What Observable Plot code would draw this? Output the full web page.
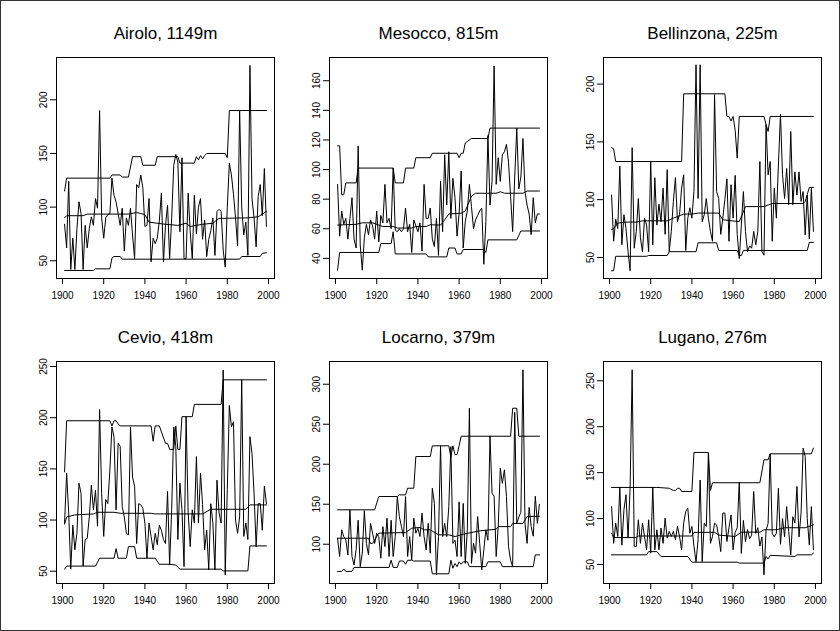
<!DOCTYPE html>
<html>
<head>
<meta charset="utf-8">
<script src="https://cdn.jsdelivr.net/npm/d3@7"></script>
<script src="https://cdn.jsdelivr.net/npm/@observablehq/plot@0.6"></script>
<style>
  html, body { margin: 0; padding: 0; background: #fff; }
  #fig { position: relative; width: 840px; height: 631px; box-sizing: border-box; border: 1px solid #333; background: #fff; overflow: hidden; }
  #fig > svg { position: absolute; }
</style>
</head>
<body>
<div id="fig"></div>
<script>
// ---------- data ----------
const years = d3.range(1901, 2000);
const xTicks = [1900, 1920, 1940, 1960, 1980, 2000];

const airoloTitle = "Airolo, 1149m";
const airoloTicks = [50, 100, 150, 200];
const airoloAnnual = [84,62,124,42,71,42,80,105,94,42, 83,62,80,91,83,108,99,190,90,71, 90,93,94,127,111,105,94,83,99,59, 90,83,99,74,52,121,118,130,118,82, 83,108,49,71,66,71,87,113,49,83, 102,52,90,139,149,142,77,146,52,52, 113,77,52,111,75,100,108,70,88,54, 70,78,90,55,96,98,96,60,44,100, 141,130,112,90,64,190,100,74,86,55, 232,108,90,63,110,121,92,136,82];
const airoloUpper = [[1901,115],[1902,127],[1923,127],[1924,130],[1928,130],[1929,128],[1932,128],[1934,147],[1938,147],[1939,139],[1945,139],[1946,147],[1956,147],[1957,141],[1964,141],[1965,147],[1966,144],[1967,148],[1968,145],[1969,148],[1970,150],[1979,150],[1980,146],[1981,190],[1999,190]];
const airoloLower = [[1901,41],[1915,41],[1916,42.5],[1923,42.5],[1924,52.5],[1925,54],[1928,54],[1929,51.5],[1986,51.5],[1987,54],[1996,54],[1997,57],[1999,57.5]];
const airoloMid = [[1901,90],[1902,92],[1910,92],[1912,93.5],[1932,93.5],[1936,95],[1938,94],[1940,93],[1942,86],[1950,84],[1956,83],[1960,85],[1962,82],[1968,84],[1973,85],[1976,89.5],[1990,90],[1995,91],[1999,96]];

const mesoccoTitle = "Mesocco, 815m";
const mesoccoTicks = [40, 60, 80, 100, 120, 140, 160];
const mesoccoAnnual = [90,55,72,63,67,53,67,81,53,47, 116,49,32,54,63,56,66,62,53,72, 51,69,64,90,64,67,60,101,59,58, 60,58,60,74,58,63,44,66,62,58, 64,45,90,67,67,74,53,48,67,42, 92,58,110,76,112,67,94,81,55,70, 99,47,65,72,90,75,60,66,69,72, 74,36,65,123,76,92,170,90,108,92, 110,112,117,105,82,58,95,128,87,95, 121,85,76,70,56,81,64,70,70];
const mesoccoUpper = [[1901,116],[1902,116],[1903,83],[1904,83],[1905,91],[1910,91],[1911,101],[1928,101],[1929,91],[1933,91],[1934,101],[1938,101],[1939,108],[1946,108],[1947,111],[1959,111],[1960,108],[1961,111],[1962,111],[1963,118],[1964,119],[1966,121],[1974,121],[1975,128],[1999,128]];
const mesoccoLower = [[1901,32],[1902,44],[1921,44],[1922,50],[1927,50],[1928,58],[1929,43],[1944,43],[1945,41],[1954,41],[1955,47],[1958,47],[1959,43],[1961,43],[1962,46],[1972,46],[1973,44],[1974,52.5],[1988,52.5],[1990,58.5],[1999,58.5]];
const mesoccoMid = [[1901,62.5],[1910,63],[1913,64],[1918,64],[1923,61.5],[1928,61.5],[1930,60.5],[1937,60.5],[1939,61.5],[1944,61.5],[1946,62.7],[1951,62.5],[1953,66],[1955,70],[1961,70.5],[1963,72],[1966,82],[1968,84],[1978,84],[1980,85],[1982,84],[1991,84],[1993,85.5],[1999,85.5]];

const bellinzonaTitle = "Bellinzona, 225m";
const bellinzonaTicks = [50, 100, 150, 200];
const bellinzonaAnnual = [104,64,83,75,129,61,87,75,55,38.5, 145,58,72.5,101,67,55,84,78,55,133, 61,119,78,96,81,110,70,126,55,72.5, 98.5,119,81,87,110,121.5,56,84,93,84, 107,216.7,101,216.7,81,87,101,84,72.5,64, 191,107,101,70,84,100,118,64,113,84, 121,70,49,78,107,72.5,55,60,58,72.5, 61,72.5,133,55,52,165,121.5,133,64,110, 84,130,174,121.5,101,127,95.6,159,95.6,124, 104,124,98.5,107,69.6,104,66,110,72.5];
const bellinzonaUpper = [[1901,145],[1902,144],[1903,133],[1935,133],[1936,191.6],[1956,191.6],[1957,172],[1958,172],[1959,168],[1960,172],[1961,160],[1962,136],[1963,172],[1975,172],[1976,165],[1977,159],[1978,172],[1999,172]];
const bellinzonaLower = [[1901,38.5],[1902,38.5],[1903,51],[1918,51],[1919,51.7],[1928,51.7],[1929,55],[1942,55],[1943,62.7],[1952,62.7],[1953,56],[1962,56],[1963,51.7],[1964,51.7],[1965,56],[1996,56],[1997,63],[1999,63]];
const bellinzonaMid = [[1901,74],[1902,75],[1904,79.7],[1908,80.6],[1913,80.6],[1916,81.7],[1928,81.7],[1931,84],[1936,87.5],[1940,87.5],[1943,88.4],[1953,88.4],[1955,82.6],[1963,81],[1966,94],[1975,94],[1979,96.7],[1994,96.7],[1995,98.5],[1997,110.6],[1999,110.6]];

const cevioTitle = "Cevio, 418m";
const cevioTicks = [50, 100, 150, 200, 250];
const cevioAnnual = [97,146,107,52,95,71,87,136,126,55, 81,82,103,134,110,129,94,208,126,84, 120,116,149,191,181,110,175,172,113,103, 87,85.5,191,142,133,77,116,115,111.5,97, 62.7,97,84,71,87,76,95,90,81,77, 128,56,110,191,172,81,136,110,54.5,201, 107,74,110,97,162,97,146,115,71,90, 51.3,116,97,51.3,139,107,97,246.6,46.4,130, 212,191,196,100,87,103,237,84,97,81, 181.5,165,126,74,116,116,90,133,116];
const cevioUpper = [[1901,147],[1902,197],[1923,197],[1924,192],[1925,197],[1926,197],[1927,194],[1928,192],[1943,192],[1944,177],[1945,192],[1947,192],[1950,175],[1951,175],[1952,169],[1954,169],[1955,192],[1956,169],[1957,169],[1958,201],[1963,201],[1964,213],[1977,213],[1978,237],[1999,237]];
const cevioLower = [[1901,52],[1902,55],[1916,55],[1918,62.7],[1925,62.7],[1926,72],[1927,62.7],[1931,62.7],[1932,74],[1935,74],[1936,62.7],[1945,62.7],[1947,56.8],[1952,56.8],[1955,56],[1956,54],[1957,52],[1977,52],[1978,50.3],[1990,50.3],[1991,74.7],[1999,74.7]];
const cevioMid = [[1901,96],[1902,103],[1906,105],[1915,106],[1917,107.6],[1925,107.6],[1928,106.6],[1943,106.6],[1945,106],[1968,106],[1972,110.5],[1989,110.5],[1991,114.8],[1999,114.8]];

const locarnoTitle = "Locarno, 379m";
const locarnoTicks = [100, 150, 200, 250, 300];
const locarnoAnnual = [107.5,84.6,118,109.6,105.4,86.7,143,84.6,74,93, 130,72,88.75,142,101,86.7,126,113.8,101,113.8, 109.6,82.5,122,97,132.5,84.6,130,84.6,109.6,159.6, 134.6,122,109.6,159.6,84.6,109.6,80.4,132.5,113.8,120, 109.6,138.75,109.6,93,126,88.75,170,151,61.7,109.6, 223,109.6,126,109.6,147,222,101,105,84.6,153, 84.6,151,76,118,270,76,101,88.75,134.6,101, 68,93,118,105,235.4,163.75,159.6,84.6,122,195, 176,193,159.6,97,80,72,265,126,134,140, 318,126,101,146,122,110,160,126,150];
const locarnoUpper = [[1901,143],[1919,143],[1921,159.6],[1930,159.6],[1931,161.7],[1934,161.7],[1935,170],[1938,170],[1939,209.6],[1946,209.6],[1947,223],[1955,223],[1956,209],[1957,223],[1958,212],[1959,212],[1960,223],[1961,235],[1985,235],[1986,270],[1988,270],[1989,235],[1999,235]];
const locarnoLower = [[1901,66],[1903,66],[1904,69],[1905,66],[1908,66],[1909,71],[1926,71],[1927,80],[1928,71],[1930,71],[1931,79],[1933,79],[1934,75],[1935,80],[1937,80],[1938,79],[1946,79],[1947,63],[1955,63],[1956,80],[1957,70],[1958,76],[1959,72],[1960,78],[1961,75],[1962,78],[1964,78],[1965,72],[1973,72],[1974,78],[1980,78],[1981,72],[1996,72],[1997,86.7],[1999,86.7]];
const locarnoMid = [[1901,107.5],[1916,107.5],[1917,101],[1918,101],[1921,113.8],[1934,114.6],[1937,120],[1941,121],[1943,118],[1946,118],[1950,111.7],[1955,111.7],[1958,109.6],[1962,112.5],[1970,116.7],[1978,118.75],[1979,122],[1985,122],[1986,126],[1991,126],[1993,134.6],[1999,135]];

const luganoTitle = "Lugano, 276m";
const luganoTicks = [50, 100, 150, 200, 250];
const luganoAnnual = [113,73,95,80.5,134,71,109.5,126,78.7,134, 262,69.6,69.6,98.7,73,95,80.5,66,98.7,62.3, 134,66,87.8,66,89.6,73,100.5,78.7,86,80.5, 86,77,91.4,80.5,66,95,107.7,111.4,84,91.4, 69.6,53,77,142,53,95,91.4,171,73,80.5, 95,93,80.5,64,106,106,75,90,104,66, 85,90,139.7,62,98,75,88,78,82,129.5, 84,90,70,80,38.7,87,95,170.5,84,80, 84,133,72,100,80,113,86,60.5,102,95, 135,80,106,176.7,167.6,100,71.4,113,66];
const luganoUpper = [[1901,133.9],[1923,133.9],[1929,133],[1931,130.6],[1932,130.6],[1933,133],[1934,133],[1935,129.5],[1940,129.5],[1941,172],[1948,172],[1949,130.6],[1950,139],[1973,139],[1975,164],[1977,164],[1978,170.5],[1998,170.5],[1999,176.7]];
const luganoLower = [[1901,60.5],[1918,60.5],[1919,64],[1923,64],[1925,58.7],[1938,58.7],[1940,52.5],[1962,52.5],[1963,51.5],[1975,51.5],[1976,58.7],[1977,56],[1978,60],[1990,58.7],[1991,60.5],[1998,60.5],[1999,62.3]];
const luganoMid = [[1901,84],[1902,79.4],[1913,79.4],[1914,81],[1940,81],[1941,85],[1951,85],[1953,82],[1961,80.5],[1964,85.2],[1973,85.2],[1975,87.8],[1981,87.8],[1985,90],[1995,90],[1999,93.2]];

// ---------- layout ----------
const panels = [
  {title: airoloTitle, ticks: airoloTicks, annual: airoloAnnual, upper: airoloUpper, lower: airoloLower, mid: airoloMid, yDomain: [33.5, 239.4], col: 0, row: 0},
  {title: mesoccoTitle, ticks: mesoccoTicks, annual: mesoccoAnnual, upper: mesoccoUpper, lower: mesoccoLower, mid: mesoccoMid, yDomain: [26.4, 175.7], col: 1, row: 0},
  {title: bellinzonaTitle, ticks: bellinzonaTicks, annual: bellinzonaAnnual, upper: bellinzonaUpper, lower: bellinzonaLower, mid: bellinzonaMid, yDomain: [31.8, 223], col: 2, row: 0},
  {title: cevioTitle, ticks: cevioTicks, annual: cevioAnnual, upper: cevioUpper, lower: cevioLower, mid: cevioMid, yDomain: [38, 254.9], col: 0, row: 1},
  {title: locarnoTitle, ticks: locarnoTicks, annual: locarnoAnnual, upper: locarnoUpper, lower: locarnoLower, mid: locarnoMid, yDomain: [50.9, 328.4], col: 1, row: 1},
  {title: luganoTitle, ticks: luganoTicks, annual: luganoAnnual, upper: luganoUpper, lower: luganoLower, mid: luganoMid, yDomain: [29.3, 271], col: 2, row: 1}
];

const boxLeft = [55, 328, 602];
const boxTop = [56, 360];
const boxW = 218;
const boxH = [221, 222];
const ML = 50, MT = 45, SVGW = 276, SVGH = 300;
const font = "'Liberation Sans', Arial, Helvetica, sans-serif";

const fig = document.getElementById("fig");
for (const p of panels) {
  const mr = SVGW - ML - boxW;
  const mb = SVGH - MT - boxH[p.row];
  const lineOpts = {x: d => d[0], y: d => d[1], stroke: "#000", strokeWidth: 1};
  const chart = Plot.plot({
    width: SVGW,
    height: SVGH,
    marginLeft: ML,
    marginRight: mr,
    marginTop: MT,
    marginBottom: mb,
    x: {domain: [1897.08, 2002.92]},
    y: {domain: p.yDomain},
    style: {fontFamily: font, background: "transparent", color: "#000", overflow: "visible"},
    marks: [
      Plot.axisX({ticks: xTicks, tickSize: 6, tickPadding: 7, fontSize: 10, tickFormat: d => String(d), label: null}),
      Plot.axisY({ticks: p.ticks, tickSize: 6, tickPadding: 3.5, tickRotate: -90, fontSize: 10, tickFormat: d => String(d), label: null}),
      Plot.line(p.annual, {x: (d, i) => years[i], y: d => d, stroke: "#000", strokeWidth: 1}),
      Plot.line(p.upper, lineOpts),
      Plot.line(p.lower, lineOpts),
      Plot.line(p.mid, lineOpts),
      Plot.frame({stroke: "#000", strokeWidth: 1}),
      Plot.text([p.title], {frameAnchor: "top", dy: -19, lineAnchor: "bottom", fontSize: 17, fill: "#000"})
    ]
  });
  chart.style.left = (boxLeft[p.col] - ML) + "px";
  chart.style.top = (boxTop[p.row] - MT) + "px";
  fig.appendChild(chart);
}
</script>
</body>
</html>
